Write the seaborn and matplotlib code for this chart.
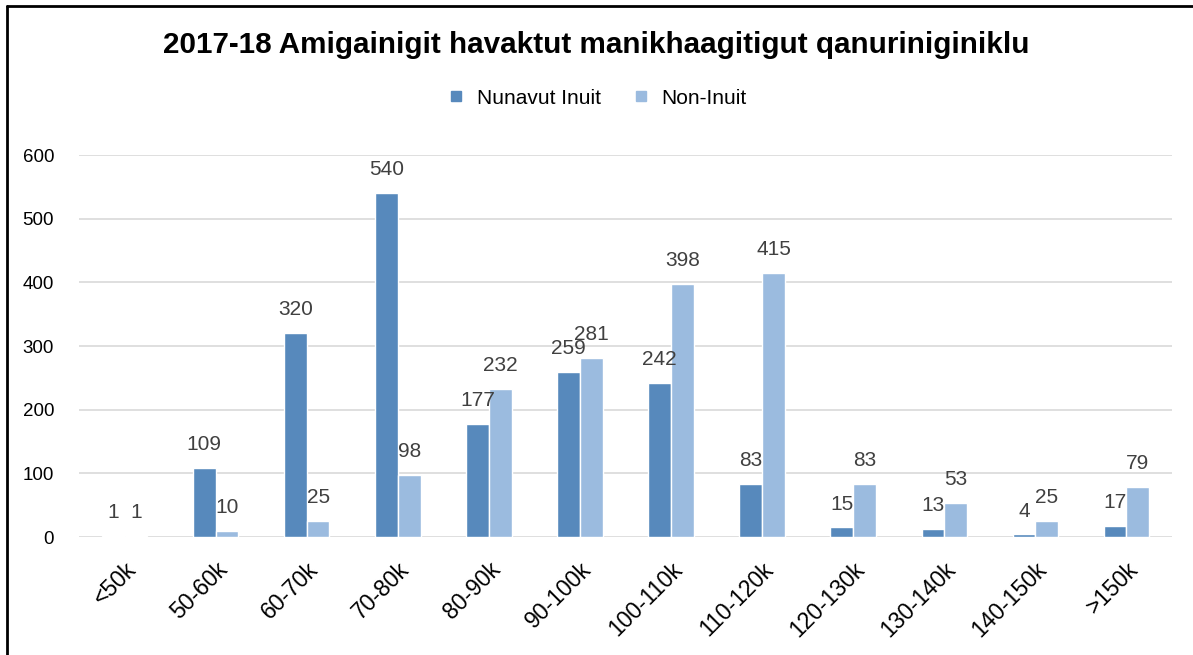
import numpy as np
import pandas as pd
import seaborn as sns
import matplotlib.pyplot as plt
from matplotlib.lines import Line2D

categories = ['<50k', '50-60k', '60-70k', '70-80k', '80-90k', '90-100k',
              '100-110k', '110-120k', '120-130k', '130-140k', '140-150k', '>150k']
nunavut_inuit = [1, 109, 320, 540, 177, 259, 242, 83, 15, 13, 4, 17]
non_inuit = [1, 10, 25, 98, 232, 281, 398, 415, 83, 53, 25, 79]
series = ['Nunavut Inuit', 'Non-Inuit']

df = pd.DataFrame({
    'band': categories * 2,
    'count': nunavut_inuit + non_inuit,
    'group': [series[0]] * len(categories) + [series[1]] * len(categories),
})

sns.set_theme(style="white")
plt.rcParams['font.family'] = ['Liberation Sans', 'DejaVu Sans']

fig = plt.figure(figsize=(11.93, 6.55), dpi=100)
ax = fig.add_axes([79 / 1193, 1 - 537 / 655, (1172 - 79) / 1193, (537 - 155) / 655])

pal = {'Nunavut Inuit': '#5789BC', 'Non-Inuit': '#9BBBDF'}
sns.barplot(data=df, x='band', y='count', hue='group', palette=pal,
            width=0.5, saturation=1, ax=ax, zorder=3, legend=False)

for cont in ax.containers:
    ax.bar_label(cont, padding=10, fontsize=15, color='#404040')

ax.set_ylim(0, 600)
ax.set_yticks(range(0, 601, 100))
ax.yaxis.grid(True, color='#d9d9d9', linewidth=1.2)
ax.set_axisbelow(True)
for s in ['top', 'right', 'left', 'bottom']:
    ax.spines[s].set_visible(False)
ax.set_xlim(-0.5, len(categories) - 0.5)
ax.set_xlabel('')
ax.set_ylabel('')
ax.tick_params(axis='y', labelsize=13.5, length=0, pad=18, labelcolor='black')
ax.tick_params(axis='x', labelsize=16.5, length=0, pad=15, labelcolor='black')
plt.setp(ax.get_xticklabels(), rotation=45, ha='right', rotation_mode='anchor')

fig.text(0.5, 1 - 45 / 655, '2017-18 Amigainigit havaktut manikhaagitigut qanuriniginiklu',
         ha='center', va='center', fontsize=21.3, fontweight='bold', color='black')

handles = [Line2D([], [], marker='s', linestyle='', markersize=7.5,
                  color=pal[s]) for s in series]
leg = fig.legend(handles, series, loc='center', bbox_to_anchor=(0.5, 1 - 98 / 655),
                 ncol=2, frameon=False, fontsize=15, handletextpad=0.5,
                 handlelength=1.0, columnspacing=1.4)
for t in leg.get_texts():
    t.set_color('black')

# chart frame
fig.add_artist(Line2D([7 / 1193, 7 / 1193], [0, 1 - 6 / 655], color='black', linewidth=2))
fig.add_artist(Line2D([7 / 1193, 1], [1 - 6 / 655, 1 - 6 / 655], color='black', linewidth=2))

fig.savefig('out.png', dpi=100)
